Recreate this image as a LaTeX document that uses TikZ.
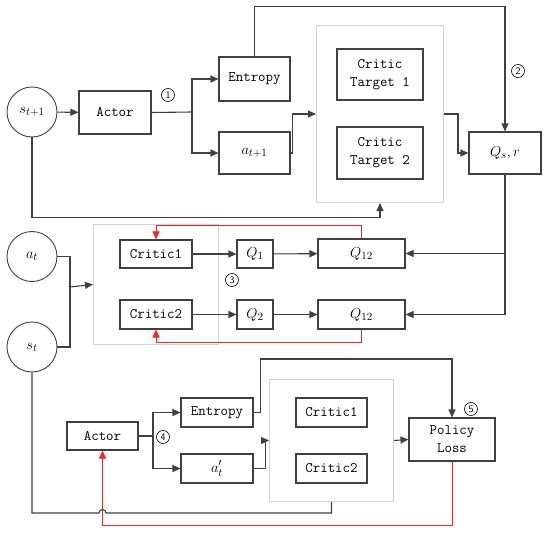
\documentclass[tikz,border=0pt]{standalone}
\usepackage{amsmath,amssymb}
\usepackage{fontspec}
\usepackage{xcolor}
\usetikzlibrary{arrows.meta,positioning,fit,backgrounds}
\definecolor{edgegray}{HTML}{404040}
\definecolor{framegray}{HTML}{D4D4D4}
\definecolor{lossred}{HTML}{FF2020}

\begin{document}
\begin{tikzpicture}[
    x=1pt, y=-1pt,
    box/.style={rectangle, draw=edgegray, line width=1.1pt, text centered,
                inner sep=0pt, font=\ttfamily\fontsize{14.5}{18}\selectfont, fill=white},
    mbox/.style={box, font=\fontsize{15}{17}\selectfont},
    state/.style={circle, draw=edgegray, line width=0.9pt, minimum size=50pt,
                  inner sep=0pt, font=\fontsize{15}{17}\selectfont},
    bigbox/.style={rectangle, draw=framegray, line width=0.9pt},
    stepmark/.style={circle, draw=black, line width=0.6pt, minimum size=13pt,
                     inner sep=0pt, font=\sffamily\fontsize{10}{10}\selectfont},
    arr/.style={->, >={Triangle[length=8pt,width=7pt]}, line width=1.1pt, draw=edgegray},
    redarr/.style={arr, draw=lossred, line width=0.9pt, >={Triangle[length=8pt,width=7pt,fill=lossred]}},
    line/.style={line width=1.1pt, draw=edgegray}
]
\useasboundingbox (0,0) rectangle (550,533);

%% target part (top)
\node[state] (st1) at (32,112) {$s_{t+1}$};
\node[box, minimum width=72pt, minimum height=43pt] (actor1) at (115,112.5) {Actor};
\node[box, minimum width=71pt, minimum height=44pt] (ent1) at (254.5,79) {Entropy};
\node[mbox, minimum width=71pt, minimum height=42pt] (at1) at (254.5,153) {$a_{t+1}$};
\node[box, minimum width=86pt, minimum height=51pt, align=center] (ct1) at (380,74.5) {Critic\\Target 1};
\node[box, minimum width=86pt, minimum height=52pt, align=center] (ct2) at (380,153) {Critic\\Target 2};
\node[mbox, minimum width=72pt, minimum height=42pt] (qsr) at (505,153) {$Q_{s}, r$};

\begin{pgfonlayer}{background}
  \node[bigbox, fit=(ct1)(ct2), inner xsep=20pt, inner ysep=23pt] (tg) {};
\end{pgfonlayer}

\coordinate (br1) at (192,112);
\draw[arr] (st1) -- (actor1);
\draw[line] (actor1.east) -- (br1);
\draw[arr] (br1) |- (ent1.west);
\draw[arr] (br1) |- (at1.west);
\draw[arr] (ent1.north) -- ++(0,-50) -| (qsr.north);
\draw[arr] (at1.east) -- ++(2,0) |- (tg.west);
\draw[arr] (tg.east) -- ++(14,0) |- (qsr.west);
\draw[arr] (st1.south) -- ++(0,80) -| (tg.south);

\node[stepmark] (n1) at (168,95) {1};
\node[stepmark] (n2) at (518,71) {2};

%% critic update (middle)
\node[state] (at) at (32,256.5) {$a_t$};
\node[state] (st) at (32,347) {$s_t$};
\node[box, minimum width=72pt, minimum height=28pt] (c1) at (156,254) {Critic1};
\node[box, minimum width=72pt, minimum height=29pt] (c2) at (156,314.5) {Critic2};
\node[mbox, minimum width=36pt, minimum height=28pt] (q1) at (255,254) {$Q_1$};
\node[mbox, minimum width=36pt, minimum height=29pt] (q2) at (255,314.5) {$Q_2$};
\node[mbox, minimum width=87pt, minimum height=29pt] (q12a) at (361.5,253.5) {$Q_{12}$};
\node[mbox, minimum width=87pt, minimum height=29pt] (q12b) at (361.5,314.5) {$Q_{12}$};

\begin{pgfonlayer}{background}
  \node[bigbox, fit=(c1)(c2), inner xsep=26pt, inner ysep=15pt] (cg) {};
\end{pgfonlayer}

\coordinate (join) at (70,287);
\draw[line] (at.east) -| (join);
\draw[line] (st.east) -| (join);
\draw[arr] (join) -- (cg.west);
\draw[arr] (c1) -- (q1);
\draw[arr] (c2) -- (q2);
\draw[arr] (q1) -- (q12a);
\draw[arr] (q2) -- (q12b);
\draw[arr] (qsr.south) |- (q12b.east);
\draw[arr] (qsr.south) |- (q12a.east);
\draw[redarr] (q12a.north) -- ++(0,-13) -| (c1.north);
\draw[redarr] (q12b.south) -- ++(0,13) -| (c2.south);

\node[stepmark] (n3) at (232,280) {3};

%% policy update (bottom)
\node[box, minimum width=71pt, minimum height=28pt] (actor2) at (102.5,436) {Actor};
\node[box, minimum width=72pt, minimum height=29pt] (ent2) at (217,412.5) {Entropy};
\node[mbox, minimum width=72pt, minimum height=29pt] (ap) at (217,468.5) {$a_t'$};
\node[box, minimum width=71pt, minimum height=29pt] (cr1) at (331.5,412.5) {Critic1};
\node[box, minimum width=71pt, minimum height=29pt] (cr2) at (331.5,468.5) {Critic2};
\node[box, minimum width=86pt, minimum height=43pt, align=center] (ploss) at (452,439.5) {Policy\\Loss};

\begin{pgfonlayer}{background}
  \node[bigbox, fit=(cr1)(cr2), inner xsep=26pt, inner ysep=18pt] (bg) {};
\end{pgfonlayer}

\coordinate (br2) at (153,436);
\draw[line] (actor2.east) -- (br2);
\draw[arr] (br2) |- (ent2.west);
\draw[arr] (br2) |- (ap.west);
\draw[arr] (ent2.east) -- ++(7,0) -- ++(0,-53.5) -| (ploss.north);
\draw[arr] (ap.east) -- ++(12,0) |- (bg.west);
\draw[arr] (bg.east) -- (ploss.west);
\draw[redarr] (ploss.south) -- ++(0,64) -| (actor2.south);
\draw[line] (st.south) |- (99,513) arc[start angle=180, end angle=360, radius=3.5] -| (bg.south);

\node[stepmark] (n4) at (163,437) {4};
\node[stepmark] (n5) at (471,409) {5};

\end{tikzpicture}
\end{document}
